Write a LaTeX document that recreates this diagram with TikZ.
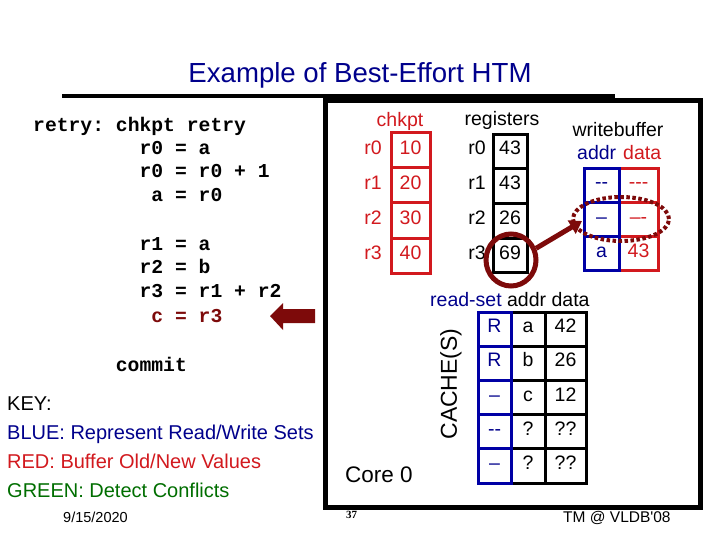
\documentclass[tikz,border=0pt]{standalone}
\usepackage{fontspec}
\setmainfont{Liberation Sans}
\setmonofont{Liberation Mono}
\newfontfamily\rawsf{Liberation Sans}
\newfontfamily\serifb{Liberation Serif}
\usetikzlibrary{shapes.geometric,arrows.meta}
\definecolor{navy}{RGB}{0,0,140}
\definecolor{kred}{RGB}{210,25,30}
\definecolor{kgreen}{RGB}{0,110,0}
\definecolor{dred}{RGB}{125,10,10}
\definecolor{boxblue}{RGB}{0,0,165}
\begin{document}
\begin{tikzpicture}[x=1pt,y=-1pt,
  code/.style={anchor=base west, inner sep=0pt, font=\fontsize{19.7}{20}\selectfont\ttfamily\bfseries\frenchspacing},
  lbl/.style={inner sep=0pt, font=\fontsize{19.5}{20}\selectfont},
  keyline/.style={anchor=base west, inner sep=0pt, font=\fontsize{20}{21}\selectfont},
  rlab/.style={inner sep=0pt, text height=0.72em, text depth=0pt, font=\fontsize{19.5}{20}\selectfont},
  cellbox/.style={draw, line width=3pt, inner sep=0pt, text height=0.72em, text depth=0pt, font=\fontsize{19.5}{20}\selectfont},
]
\useasboundingbox (0,0) rectangle (720,540);
\fill[white] (0,0) rectangle (720,540);

% title and rule
\node[anchor=base, inner sep=0pt, font=\fontsize{27.6}{30}\selectfont, text=navy] (title) at (360,83) {Example of Best-Effort HTM};
\draw[line width=4pt] (62,96.5) -- (615,96.5);

% code
\node[code] (l1) at (33,132) {retry: chkpt retry};
\node[code] (l2) at (139.4,155) {r0 = a};
\node[code] (l3) at (139.4,178) {r0 = r0 + 1};
\node[code] (l4) at (151.2,202) {a = r0};
\node[code] (l5) at (139.4,250) {r1 = a};
\node[code] (l6) at (139.4,273) {r2 = b};
\node[code] (l7) at (139.4,297) {r3 = r1 + r2};
\node[code, text=dred] (l8) at (151.2,322) {c = r3};
\node[code] (l9) at (115.7,371) {commit};

% block arrow
\fill[dred] (270,316) -- (283,303) -- (283,309) -- (315,309) -- (315,323) -- (283,323) -- (283,330) -- cycle;

% key
\node[keyline] (k0) at (7,410) {KEY:};
\node[keyline, text=navy] (k1) at (7,439) {BLUE: Represent Read/Write Sets};
\node[keyline, text=kred] (k2) at (7,468) {RED: Buffer Old/New Values};
\node[keyline, text=kgreen] (k3) at (7,497) {GREEN: Detect Conflicts};

% footer
\node[anchor=base west, inner sep=0pt, font=\fontsize{14.5}{15}\selectfont] (date) at (63,522) {9/15/2020};
\node[anchor=base west, inner sep=0pt, font=\serifb\bfseries\fontsize{11}{12}\selectfont] (pg) at (346,518) {37};
\node[anchor=base west, inner sep=0pt, font=\rawsf\fontsize{15.5}{16}\selectfont] (tm) at (563,522) {TM @ VLDB'08};

% frame
\draw[line width=5pt] (325,101) rectangle (700,507);

% chkpt column
\node[lbl, anchor=base, text=kred] (chk) at (400,127) {chkpt};
\foreach \r/\v/\y in {0/10/150.5,1/20/185.5,2/30/220.5,3/40/255.5}{
  \node[rlab, text=kred] (cl\r) at (373,\y) {r\r};
  \node[cellbox, draw=kred, text=kred, minimum width=39pt, minimum height=35pt] (c\r) at (410.5,\y) {\v};
}

% registers column
\node[lbl, anchor=base] (regs) at (502,126) {registers};
\foreach \r/\v/\y in {0/43/151.4,1/43/186.1,2/26/220.9,3/69/255.6}{
  \node[rlab] (rl\r) at (477,\y) {r\r};
  \node[cellbox, minimum width=34pt, minimum height=34.75pt] (g\r) at (510,\y) {\v};
}

% writebuffer
\node[lbl, anchor=base] (wb) at (618,137) {writebuffer};
\node[lbl, anchor=base west, text=navy] (wbaddr) at (577,160) {addr};
\node[lbl, anchor=base west, text=kred] (wbdata) at (623,160) {data};
\node[cellbox, draw=kred, text=kred, minimum width=39pt, minimum height=34.33pt] (wd1) at (638.5,185.2) {-{}-{}-};
\node[cellbox, draw=kred, text=kred, minimum width=39pt, minimum height=34.33pt] (wd2) at (638.5,219.5) {--{}-};
\node[cellbox, draw=kred, text=kred, minimum width=39pt, minimum height=34.33pt] (wd3) at (638.5,253.8) {43};
\node[cellbox, draw=boxblue, text=navy, minimum width=35pt, minimum height=34.33pt] (wa1) at (601.5,185.2) {-{}-};
\node[cellbox, draw=boxblue, text=navy, minimum width=35pt, minimum height=34.33pt] (wa2) at (601.5,219.5) {--};
\node[cellbox, draw=boxblue, text=navy, minimum width=35pt, minimum height=34.33pt] (wa3) at (601.5,253.8) {a};

% cache
\node[lbl, anchor=base west] (rs) at (430,306) {\textcolor{navy}{read-set} addr data};
\node[rotate=90, inner sep=0pt, font=\fontsize{23}{24}\selectfont] (cache) at (451,384) {CACHE(S)};
\node[anchor=base west, inner sep=0pt, font=\fontsize{22.5}{24}\selectfont] (core) at (345,482) {Core 0};
\foreach \i/\s/\a/\d/\y in {1/R/a/42/329.1, 2/R/b/26/363.3, 3/--/c/12/397.5, 4/-{}-/?/??/431.7, 5/--/?/??/465.9}{
  \node[cellbox, minimum width=34pt, minimum height=34.2pt] (ca\i) at (528,\y) {\a};
  \node[cellbox, minimum width=41pt, minimum height=34.2pt] (cd\i) at (565.5,\y) {\d};
  \node[cellbox, draw=boxblue, text=navy, minimum width=33pt, minimum height=34.2pt] (cs\i) at (494.5,\y) {\s};
}

% highlight circle, arrow, dotted ellipse
\node[draw=dred, line width=5pt, ellipse, minimum width=50pt, minimum height=52pt, inner sep=0pt] (circ) at (511,260) {};
\coordinate (tip) at (582,221);
\draw[dred, line width=5pt, -{Triangle[length=12pt,width=15pt]}] (circ.25) -- (tip);
\node[draw=dred, line width=4pt, ellipse, dash pattern=on 3.5pt off 2.5pt, minimum width=96pt, minimum height=44pt, inner sep=0pt] (sel) at (621,219) {};
\end{tikzpicture}
\end{document}
